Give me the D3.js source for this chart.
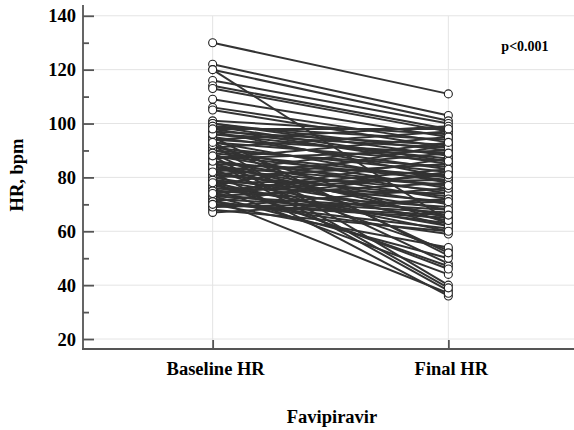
<!DOCTYPE html>
<html>
<head>
<meta charset="utf-8">
<script src="https://cdn.jsdelivr.net/npm/d3@7"></script>
<style>
  html, body { margin: 0; padding: 0; background: #fff; }
  svg text { font-family: "Liberation Serif", "Times New Roman", serif; font-weight: bold; fill: #000; }
</style>
</head>
<body>
<svg id="chart" width="574" height="430"></svg>
<script>
// categories on the x axis
const groups = ["Baseline HR", "Final HR"];

// paired heart rates (one entry per patient)
const baselineHR = [130, 122, 120, 120, 116, 114, 113, 109, 106, 105,
  101, 100, 100, 99, 98, 97, 97, 96, 95, 95,
  94, 93, 93, 92, 91, 90, 90, 89, 88, 88,
  87, 86, 86, 85, 84, 84, 83, 83, 82, 82,
  81, 80, 80, 79, 78, 78, 77, 76, 76, 75,
  74, 74, 73, 73, 72, 71, 71, 70, 70, 69,
  68, 67, 72, 77, 91, 85, 79, 94,
  99, 96, 92, 89, 87, 84, 81, 79, 75, 73,
  71, 69, 98, 93, 86, 82, 78, 74, 70, 88];
const finalHR = [111, 103, 64, 101, 100, 98, 97, 95, 93, 91,
  96, 90, 88, 94, 85, 92, 80, 87, 83, 51,
  89, 78, 86, 40, 82, 76, 84, 48, 79, 74,
  90, 72, 38, 81, 70, 77, 53, 75, 68, 36,
  73, 85, 66, 71, 47, 79, 62, 74, 44, 69,
  87, 63, 50, 78, 67, 61, 82, 65, 54, 76,
  60, 72, 37, 92, 97, 65, 46, 99,
  86, 91, 63, 80, 95, 62, 89, 64, 83, 68,
  59, 71, 98, 52, 77, 93, 60, 81, 66, 39];

const yMajor = [20, 40, 60, 80, 100, 120, 140];
const yMinor = [30, 50, 70, 90, 110, 130];
const pLabel = "p<0.001";

const svg = d3.select("#chart");
const W = 574, H = 430;

const x = d3.scalePoint().domain(groups).range([83, 578]).padding(0.55);
const y = d3.scaleLinear().domain([16.3, 144]).range([349, 5]);

// grid
const grid = svg.append("g");
grid.selectAll("line.h").data(yMajor).join("line")
  .attr("x1", 83).attr("x2", W)
  .attr("y1", d => y(d)).attr("y2", d => y(d))
  .attr("stroke", "#e4e4e4").attr("stroke-width", 1);
grid.selectAll("line.v").data(groups).join("line")
  .attr("x1", d => x(d)).attr("x2", d => x(d))
  .attr("y1", y(140)).attr("y2", y(16.3))
  .attr("stroke", "#e4e4e4").attr("stroke-width", 1);

// paired lines
const pairs = baselineHR.map((b, i) => [b, finalHR[i]]);
svg.append("g").selectAll("line").data(pairs).join("line")
  .attr("x1", x(groups[0])).attr("x2", x(groups[1]))
  .attr("y1", d => y(d[0])).attr("y2", d => y(d[1]))
  .attr("stroke", "#333").attr("stroke-width", 2);

// points
const pts = svg.append("g");
pts.selectAll("circle.b").data(baselineHR).join("circle")
  .attr("cx", x(groups[0])).attr("cy", d => y(d)).attr("r", 4)
  .attr("fill", "#fff").attr("stroke", "#222").attr("stroke-width", 1.1);
pts.selectAll("circle.f").data(finalHR).join("circle")
  .attr("cx", x(groups[1])).attr("cy", d => y(d)).attr("r", 4)
  .attr("fill", "#fff").attr("stroke", "#222").attr("stroke-width", 1.1);

// y axis
const yAxis = svg.append("g").attr("transform", "translate(83,0)")
  .call(d3.axisRight(y).tickValues(yMajor).tickSize(11).tickFormat(""));
svg.append("g").attr("transform", "translate(83,0)")
  .call(d3.axisRight(y).tickValues(yMinor).tickSize(6).tickFormat(""))
  .call(g => g.select(".domain").remove());
yAxis.select(".domain").attr("d", `M0,${y(144)}V${y(16.3)}`);

// x axis
const xAxis = svg.append("g").attr("transform", "translate(0,349)")
  .call(d3.axisTop(x).tickSize(9).tickFormat(""));
xAxis.select(".domain").attr("d", "M82,0H574");

svg.selectAll(".domain, .tick line").attr("stroke", "#555").attr("stroke-width", 1.8);

// tick labels
svg.append("g").selectAll("text").data(yMajor).join("text")
  .attr("x", 76).attr("y", d => y(d)).attr("dy", "0.35em")
  .attr("text-anchor", "end").style("font-size", "18.5px")
  .text(d => d);
svg.append("g").selectAll("text").data(groups).join("text")
  .attr("x", d => x(d) + 3).attr("y", 375)
  .attr("text-anchor", "middle").style("font-size", "18.5px")
  .text(d => d);

// axis titles
svg.append("text").attr("x", 332).attr("y", 422.5)
  .attr("text-anchor", "middle").style("font-size", "18.5px")
  .text("Favipiravir");
svg.append("text").attr("transform", "translate(23,175) rotate(-90)")
  .attr("text-anchor", "middle").style("font-size", "18.5px")
  .text("HR, bpm");

// annotation
svg.append("text").attr("x", 525).attr("y", 50.5)
  .attr("text-anchor", "middle").style("font-size", "14px")
  .text(pLabel);
</script>
</body>
</html>
